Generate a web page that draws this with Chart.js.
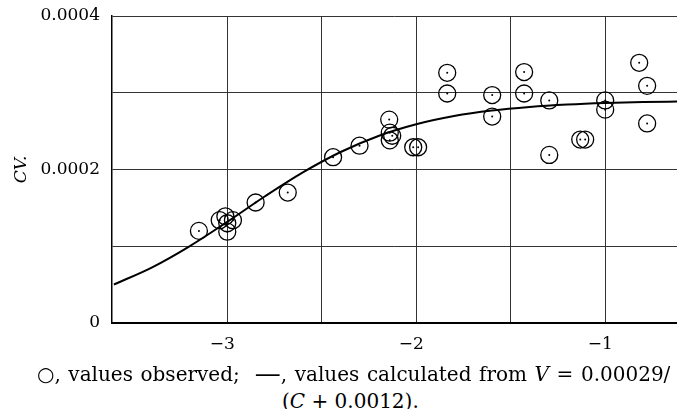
<!DOCTYPE html>
<html>
<head>
<meta charset="utf-8">
<script src="https://cdn.jsdelivr.net/npm/chart.js@4.4.1/dist/chart.umd.min.js"></script>
<style>
  body { margin: 0; background: #fff; }
  #wrap { position: relative; width: 677px; height: 409px; overflow: hidden; }
  #chart { position: absolute; left: 0; top: 0; }
  .cap { position: absolute; font-family: "DejaVu Serif", serif; font-size: 20px; color: #000; white-space: nowrap; line-height: 22px; }
  #cap1 { left: 37px; top: 362px; word-spacing: 1.2px; }
  #cap2 { left: 282px; top: 390px; }
  .dash { font-size: 26px; vertical-align: -1px; }
</style>
</head>
<body>
<div id="wrap">
  <canvas id="chart" width="677" height="360"></canvas>
  <div class="cap" id="cap1">○, values observed;&nbsp; <span class="dash">—</span>, values calculated from <i>V</i> = 0.00029/</div>
  <div class="cap" id="cap2">(<i>C</i> + 0.0012).</div>
</div>
<script>
// observed points (log C, CV)
const obsX = [-3.15, -3.04, -2.97, -3.00, -3.00, -3.01, -2.85, -2.68, -2.44, -2.30,
  -2.143, -2.14, -2.127, -2.14, -2.016, -1.99, -1.836, -1.836, -1.598, -1.598,
  -1.429, -1.429, -1.296, -1.296, -1.132, -1.106, -1.0, -1.0, -0.82, -0.778, -0.778]
const obsY = [0.000120, 0.000134, 0.000134, 0.000130, 0.000119, 0.000139, 0.000157, 0.000170, 0.000216, 0.000231,
  0.000265, 0.000248, 0.000244, 0.000238, 0.000229, 0.000229, 0.000326, 0.000299, 0.000297, 0.000269,
  0.000327, 0.000299, 0.000290, 0.000219, 0.000239, 0.000239, 0.000290, 0.000278, 0.000339, 0.000309, 0.000260]

// calculated curve
const curveX = [-3.6, -3.4, -3.2, -3.0, -2.8, -2.6, -2.4, -2.2, -2.0, -1.8, -1.6, -1.4, -1.2, -1.0, -0.8, -0.6]
const curveY = [0.0000502, 0.0000722, 0.0000999, 0.0001318, 0.0001651, 0.0001962, 0.0002228, 0.0002437,
  0.0002589, 0.0002696, 0.0002768, 0.0002815, 0.0002846, 0.0002866, 0.0002878, 0.0002886]

const xTicks = [-3, -2.5, -2, -1.5, -1]
const xTickLabels = ['−3', '', '−2', '', '−1']
const yTicks = [0, 0.0001, 0.0002, 0.0003, 0.0004]
const yTickLabels = ['0', '', '0.0002', '', '0.0004']

const obsPoints = obsX.map((x, i) => ({x: x, y: obsY[i]}))
const curvePoints = curveX.map((x, i) => ({x: x, y: curveY[i]}))

const serif = "DejaVu Serif"

new Chart(document.getElementById("chart"), {
  type: 'scatter',
  data: {
    datasets: [
      {
        data: curvePoints,
        showLine: true,
        borderColor: '#000',
        borderWidth: 2,
        pointRadius: 0,
        cubicInterpolationMode: 'monotone',
        order: 3
      },
      {
        data: obsPoints,
        pointRadius: 8.5,
        pointBorderWidth: 1.3,
        pointBorderColor: '#000',
        pointBackgroundColor: 'rgba(0,0,0,0)',
        order: 2
      },
      {
        data: obsPoints,
        pointRadius: 1,
        pointBorderWidth: 0,
        pointBackgroundColor: '#000',
        order: 1
      }
    ]
  },
  options: {
    responsive: false,
    animation: false,
    events: [],
    layout: { autoPadding: false, padding: { top: 16, right: 0, left: 0, bottom: 0 } },
    plugins: { legend: { display: false }, tooltip: { enabled: false } },
    scales: {
      x: {
        type: 'linear',
        min: -3.61,
        max: -0.62,
        afterBuildTicks: (scale) => { scale.ticks = xTicks.map(v => ({value: v})) },
        afterFit: (scale) => {
          scale.height = 37
          scale.paddingLeft = 0
          scale.paddingRight = 0
        },
        grid: { color: '#333', lineWidth: 1, drawTicks: false },
        border: { display: true, color: '#000', width: 2 },
        ticks: {
          autoSkip: false,
          maxRotation: 0,
          padding: 11,
          labelOffset: -5,
          color: '#000',
          font: { family: serif, size: 17 },
          callback: (v, i) => xTickLabels[i]
        }
      },
      y: {
        min: 0,
        max: 0.0004,
        afterBuildTicks: (scale) => { scale.ticks = yTicks.map(v => ({value: v})) },
        afterFit: (scale) => {
          scale.width = 112
          scale.paddingTop = 0
          scale.paddingBottom = 0
        },
        grid: { color: '#333', lineWidth: 1, drawTicks: false },
        border: { display: true, color: '#000', width: 1.5 },
        ticks: {
          autoSkip: false,
          padding: 12,
          color: '#000',
          font: { family: serif, size: 17 },
          callback: (v, i) => yTickLabels[i]
        },
        title: {
          display: true,
          text: 'CV.',
          color: '#000',
          padding: { top: 11, bottom: 0 },
          font: { family: serif, size: 17, style: 'italic' }
        }
      }
    }
  }
})
</script>
</body>
</html>
